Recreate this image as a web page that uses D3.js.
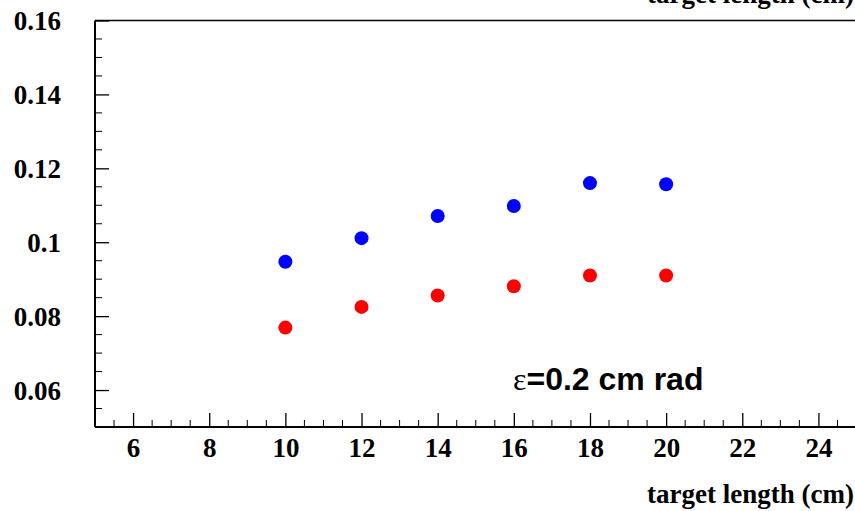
<!DOCTYPE html>
<html><head><meta charset="utf-8">
<script src="https://cdn.jsdelivr.net/npm/d3@7"></script>
<style>html,body{margin:0;padding:0;background:#fff;overflow:hidden}</style>
</head><body>
<svg id="c" width="855" height="511"></svg>
<script>
const lengths = [10, 12, 14, 16, 18, 20];
const blueValues = [0.0947, 0.1011, 0.1071, 0.1098, 0.1160, 0.1157];
const redValues = [0.0769, 0.0825, 0.0856, 0.0881, 0.0910, 0.0910];
const xTickLabels = [6, 8, 10, 12, 14, 16, 18, 20, 22, 24];
const yTickLabels = [0.06, 0.08, 0.1, 0.12, 0.14, 0.16];
const xTitle = "target length (cm)";
const annotation = "=0.2 cm rad";

const svg = d3.select("#c");
const L = 95, R = 856.5, T = 20.5, B = 427;
const x = d3.scaleLinear().domain([5, 25]).range([L, R]);
const y = d3.scaleLinear().domain([0.05, 0.16]).range([B, T]);

// frame top line
svg.append("line").attr("x1", L).attr("x2", 855).attr("y1", T).attr("y2", T)
  .attr("stroke", "#000").attr("stroke-width", 1.5);

// x minor ticks
const xMinor = d3.range(5.5, 25, 0.5).filter(v => Math.abs(v % 2) > 1e-9);
svg.append("g").selectAll("line").data(xMinor).join("line")
  .attr("x1", d => x(d)).attr("x2", d => x(d)).attr("y1", B).attr("y2", B - 7)
  .attr("stroke", "#000").attr("stroke-width", 1);
// y minor ticks
const yMinor = d3.range(0.055, 0.16, 0.005).filter(v => Math.abs(Math.round(v * 1000) % 20) > 0);
svg.append("g").selectAll("line").data(yMinor).join("line")
  .attr("x1", L).attr("x2", L + 7).attr("y1", d => y(d)).attr("y2", d => y(d))
  .attr("stroke", "#000").attr("stroke-width", 1);

// x axis
const xAxis = d3.axisTop(x).tickValues(xTickLabels).tickSize(14).tickFormat(d3.format("d")).tickSizeOuter(0);
const gx = svg.append("g").attr("transform", `translate(0,${B})`).call(xAxis);
gx.select(".domain").attr("stroke-width", 2).attr("d", `M${L},0H855`);
gx.selectAll(".tick line").attr("stroke-width", 1.3);
gx.selectAll(".tick text").attr("y", 30).attr("dy", 0)
  .style("font-family", "'Liberation Serif', 'Times New Roman', serif")
  .style("font-weight", "bold").style("font-size", "27px").attr("fill", "#000");

// y axis
const yAxis = d3.axisRight(y).tickValues(yTickLabels).tickSize(14).tickFormat(d => String(d)).tickSizeOuter(0);
const gy = svg.append("g").attr("transform", `translate(${L},0)`).call(yAxis);
gy.select(".domain").attr("stroke-width", 2).attr("d", `M0,${B}V${T}`);
gy.selectAll(".tick line").attr("stroke-width", 1.3);
gy.selectAll(".tick text").attr("x", -34).attr("dy", "0.35em").attr("text-anchor", "end")
  .style("font-family", "'Liberation Serif', 'Times New Roman', serif")
  .style("font-weight", "bold").style("font-size", "27px").attr("fill", "#000");

// points
svg.append("g").selectAll("circle").data(lengths.map((l, i) => [l, blueValues[i]])).join("circle")
  .attr("cx", d => x(d[0])).attr("cy", d => y(d[1])).attr("r", 7).attr("fill", "#0000ff");
svg.append("g").selectAll("circle").data(lengths.map((l, i) => [l, redValues[i]])).join("circle")
  .attr("cx", d => x(d[0])).attr("cy", d => y(d[1])).attr("r", 7).attr("fill", "#ff0000");

// annotation
const ann = svg.append("text").attr("x", 513).attr("y", 390)
  .style("font-family", "'Liberation Sans', Arial, sans-serif").style("font-weight", "bold")
  .style("font-size", "32px").attr("fill", "#000");
ann.append("tspan").style("font-family", "'Liberation Serif', serif").style("font-weight", "normal").text("ε");
ann.append("tspan").text(annotation);

// axis titles
const titleStyle = sel => sel.attr("text-anchor", "end")
  .style("font-family", "'Liberation Serif', 'Times New Roman', serif")
  .style("font-weight", "bold").style("font-size", "27px").attr("fill", "#000").text(xTitle);
svg.append("text").attr("x", 854).attr("y", 503).call(titleStyle);
svg.append("text").attr("x", 854).attr("y", 3).call(titleStyle);
</script>
</body></html>
